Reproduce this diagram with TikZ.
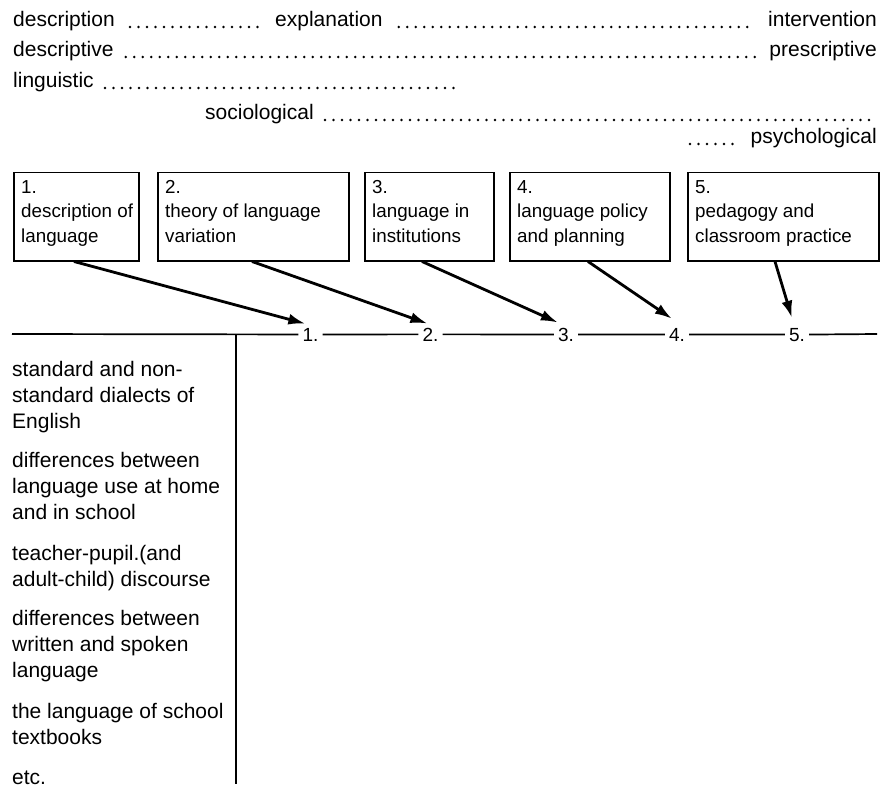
\documentclass[tikz,border=0pt]{standalone}
\usepackage{fontspec}
\setmainfont{Liberation Sans}
\usetikzlibrary{arrows.meta}
\begin{document}
\begin{tikzpicture}[x=1pt,y=-1pt,
  toptext/.style={inner sep=0pt,font=\fontsize{21}{26}\selectfont},
  leader/.style={line width=2.7pt,line cap=round,dash pattern=on 0pt off 8.5pt,yshift=1.4pt},
  stagebox/.style={draw,line width=1.5pt,anchor=north west,inner sep=0pt,minimum height=88pt},
  boxtext/.style={inner sep=0pt,font=\fontsize{18.8}{24.5}\selectfont,align=left,anchor=base west},
  axlabel/.style={inner sep=0pt,font=\fontsize{19}{22}\selectfont,anchor=base},
  axisline/.style={line width=1.7pt},
  feed/.style={line width=2.8pt,-{Latex[length=17pt,width=11pt]}},
  listtext/.style={inner sep=0pt,font=\fontsize{21}{26}\selectfont,align=left,anchor=base west}
]
\useasboundingbox (0,0) rectangle (881,789);

% scales along the top
\node[toptext,anchor=base west] (desc)   at (13,27)  {description};
\node[toptext,anchor=base west] (expl)   at (275,27) {explanation};
\node[toptext,anchor=base east] (interv) at (877,27) {intervention};
\node[toptext,anchor=base west] (descr)  at (13,57)  {descriptive};
\node[toptext,anchor=base east] (prescr) at (877,57) {prescriptive};
\node[toptext,anchor=base west] (ling)   at (13,88)  {linguistic};
\coordinate (lingend) at (458,88);
\node[toptext,anchor=base west] (socio)  at (205,120) {sociological};
\coordinate (socioend) at (877,120);
\node[toptext,anchor=base east] (psych)  at (877,144) {psychological};
\coordinate (psychstart) at (690,144);

\draw[leader] ([xshift=15pt]desc.base east) -- ([xshift=-10pt]expl.base west);
\draw[leader] ([xshift=16pt]expl.base east) -- ([xshift=-15pt]interv.base west);
\draw[leader] ([xshift=12pt]descr.base east) -- ([xshift=-14pt]prescr.base west);
\draw[leader] ([xshift=11pt]ling.base east) -- (lingend);
\draw[leader] ([xshift=11pt]socio.base east) -- (socioend);
\draw[leader] (psychstart) -- ([xshift=-14pt]psych.base west);

% the five boxes
\node[stagebox,minimum width=125pt] (b1) at (13,172)  {};
\node[stagebox,minimum width=191pt] (b2) at (157,172) {};
\node[stagebox,minimum width=129pt] (b3) at (364,172) {};
\node[stagebox,minimum width=160pt] (b4) at (509,172) {};
\node[stagebox,minimum width=191pt] (b5) at (687,172) {};

% box captions (anchored at the baseline of their last line)
\node[boxtext] (bt1) at (21,242)  {1.\\description of\\language};
\node[boxtext] (bt2) at (165,242) {2.\\theory of language\\variation};
\node[boxtext] (bt3) at (372,242) {3.\\language in\\institutions};
\node[boxtext] (bt4) at (517,242) {4.\\language policy\\and planning};
\node[boxtext] (bt5) at (695,242) {5.\\pedagogy and\\classroom practice};

% the horizontal axis with its numbered points
\node[axlabel] (n1) at (310.5,341) {1.};
\node[axlabel] (n2) at (430.5,341) {2.};
\node[axlabel] (n3) at (566,341)   {3.};
\node[axlabel] (n4) at (677,341)   {4.};
\node[axlabel] (n5) at (797,341)   {5.};
\coordinate (axstart) at (12,334);
\coordinate (axend)   at (877,334);

\draw[axisline] (axstart) -- ([xshift=-4pt]n1.west);
\draw[axisline] ([xshift=4pt]n1.east) -- ([xshift=-4pt]n2.west);
\draw[axisline] ([xshift=4pt]n2.east) -- ([xshift=-4pt]n3.west);
\draw[axisline] ([xshift=4pt]n3.east) -- ([xshift=-4pt]n4.west);
\draw[axisline] ([xshift=4pt]n4.east) -- ([xshift=-4pt]n5.west);
\draw[axisline] ([xshift=4pt]n5.east) -- (axend);

% vertical divider
\coordinate (vtop) at (236,334);
\coordinate (vbot) at (236,784);
\draw[axisline] (vtop) -- (vbot);

% arrows from boxes to axis points
\draw[feed] ([xshift=61pt]b1.south west) -- ([shift={(3pt,4pt)}]n1.north west);
\draw[feed] ([xshift=95pt]b2.south west) -- ([shift={(5pt,4pt)}]n2.north west);
\draw[feed] ([xshift=58pt]b3.south west) -- ([shift={(0pt,5pt)}]n3.north west);
\draw[feed] ([xshift=79pt]b4.south west) -- ([shift={(3pt,9pt)}]n4.north west);
\draw[feed] ([xshift=88pt]b5.south west) -- ([shift={(3pt,10pt)}]n5.north west);

% list of topics (anchored at the baseline of their last line)
\node[listtext] (g1) at (12,428) {standard and non-\\standard dialects of\\English};
\node[listtext] (g2) at (12,519) {differences between\\language use at home\\and in school};
\node[listtext] (g3) at (12,586) {teacher-pupil.(and\\adult-child) discourse};
\node[listtext] (g4) at (12,677) {differences between\\written and spoken\\language};
\node[listtext] (g5) at (12,744) {the language of school\\textbooks};
\node[listtext] (g6) at (12,784) {etc.};
\end{tikzpicture}
\end{document}
